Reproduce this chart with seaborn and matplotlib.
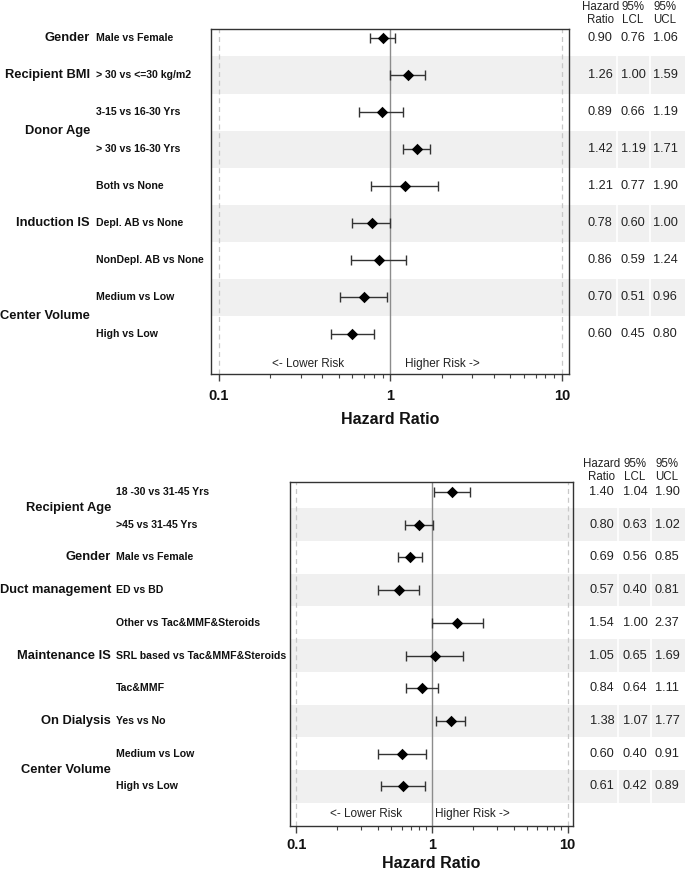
import numpy as np
import pandas as pd
import matplotlib
matplotlib.use("Agg")
import matplotlib.pyplot as plt
import seaborn as sns
from matplotlib.transforms import blended_transform_factory
from matplotlib.ticker import LogLocator, NullFormatter

# ---- top panel data ----
top_groups = ["Gender", "Recipient BMI", "Donor Age", "Donor Age", "Induction IS",
              "Induction IS", "Induction IS", "Center Volume", "Center Volume"]
top_labels = ["Male vs Female", "> 30 vs <=30 kg/m2", "3-15 vs 16-30 Yrs", "> 30 vs 16-30 Yrs",
              "Both vs None", "Depl. AB vs None", "NonDepl. AB vs None", "Medium vs Low", "High vs Low"]
top_hr = [0.90, 1.26, 0.89, 1.42, 1.21, 0.78, 0.86, 0.70, 0.60]
top_lcl = [0.76, 1.00, 0.66, 1.19, 0.77, 0.60, 0.59, 0.51, 0.45]
top_ucl = [1.06, 1.59, 1.19, 1.71, 1.90, 1.00, 1.24, 0.96, 0.80]

# ---- bottom panel data ----
bot_groups = ["Recipient Age", "Recipient Age", "Gender", "Duct management", "Maintenance IS",
              "Maintenance IS", "Maintenance IS", "On Dialysis", "Center Volume", "Center Volume"]
bot_labels = ["18 -30 vs 31-45 Yrs", ">45 vs 31-45 Yrs", "Male vs Female", "ED vs BD",
              "Other vs Tac&MMF&Steroids", "SRL based vs Tac&MMF&Steroids", "Tac&MMF",
              "Yes vs No", "Medium vs Low", "High vs Low"]
bot_hr = [1.40, 0.80, 0.69, 0.57, 1.54, 1.05, 0.84, 1.38, 0.60, 0.61]
bot_lcl = [1.04, 0.63, 0.56, 0.40, 1.00, 0.65, 0.64, 1.07, 0.40, 0.42]
bot_ucl = [1.90, 1.02, 0.85, 0.81, 2.37, 1.69, 1.11, 1.77, 0.91, 0.89]

sns.set_theme(style="white")
plt.rcParams['font.family'] = ['Liberation Sans', 'DejaVu Sans']

W, H = 685, 873
fig = plt.figure(figsize=(W / 100, H / 100), dpi=100)


def px_axes(left, top, right, bottom):
    return fig.add_axes([left / W, 1 - bottom / H, (right - left) / W, (bottom - top) / H])


def forest(ax, groups, labels, hr, lcl, ucl, ylim, cols_x, seps, band_right,
           group_right, sub_left, header_y, risk_y, tick_pad=6, label_pad=6):
    df = pd.DataFrame({"group": groups, "label": labels, "hr": hr, "lcl": lcl, "ucl": ucl})
    df["row"] = np.arange(len(df))
    ax.set_xscale("log")

    ttab = blended_transform_factory(ax.transAxes, ax.transData)
    tfig = blended_transform_factory(fig.transFigure, ax.transData)

    # shaded bands, running on into the table
    for r in df.row[1::2]:
        ax.axhspan(r - 0.5, r + 0.5, xmin=0, xmax=band_right, color="#f0f0f0",
                   lw=0, zorder=0, clip_on=False)
        for s in seps:
            ax.plot([s, s], [r - 0.5, r + 0.5], color="white", lw=1.2,
                    transform=ttab, clip_on=False, zorder=0.5)

    ax.axvline(1, color="#8c8c8c", lw=1, zorder=1)
    for v in (0.1, 10):
        ax.axvline(v, color="#c8c8c8", lw=0.9, ls=(0, (4, 3)), zorder=1)

    ax.errorbar(df.hr, df.row, xerr=[df.hr - df.lcl, df.ucl - df.hr], fmt="none",
                ecolor="#333333", elinewidth=1, capsize=3.6, capthick=1, zorder=2)
    sns.scatterplot(data=df, x="hr", y="row", marker="D", color="black", s=34,
                    linewidth=0, ax=ax, zorder=3)

    ax.set_xlim(10 ** -1.045, 10 ** 1.04)
    ax.set_ylim(*ylim)

    # table on the right
    for _, d in df.iterrows():
        for x, v in zip(cols_x, (d.hr, d.lcl, d.ucl)):
            ax.text(x, d.row, f"{v:.2f}", transform=ttab, ha="center", va="center",
                    fontsize=9.2, color="#222222")
    for x, h in zip(cols_x, ("Hazard\nRatio", "95%\nLCL", "95%\nUCL")):
        ax.text(x, header_y, h, transform=ttab, ha="center", va="center",
                fontsize=8.3, linespacing=1.15, color="#222222")

    # row labels on the left
    for _, d in df.iterrows():
        ax.text(sub_left, d.row, d.label, transform=tfig, ha="left", va="center",
                fontsize=7.6, fontweight="bold", color="#111111")
    for g, rows in df.groupby("group", sort=False).row:
        ax.text(group_right, rows.mean(), g, transform=tfig, ha="right", va="center",
                fontsize=9.3, fontweight="bold", color="#111111")

    ax.text(0.33, risk_y, "<- Lower Risk", ha="center", va="center", fontsize=8.5, color="#222222")
    ax.text(2.0, risk_y, "Higher Risk ->", ha="center", va="center", fontsize=8.5, color="#222222")

    ax.set_yticks([])
    ax.set_ylabel("")
    ax.set_xticks([0.1, 1, 10], labels=["0.1", "1", "10"])
    ax.xaxis.set_minor_locator(LogLocator(base=10, subs=np.arange(2, 10)))
    ax.xaxis.set_minor_formatter(NullFormatter())
    for t in ax.get_xticklabels():
        t.set_fontweight("bold")
    ax.tick_params(axis="x", which="major", bottom=True, length=5, width=1,
                   color="#444444", labelsize=10.5, pad=tick_pad, labelcolor="#111111")
    ax.tick_params(axis="x", which="minor", bottom=True, length=3, width=0.8, color="#444444")
    ax.set_xlabel("Hazard Ratio", fontsize=11.5, fontweight="bold", labelpad=label_pad,
                  color="#111111")
    for sp in ax.spines.values():
        sp.set_color("#333333")
        sp.set_linewidth(1)
    ax.grid(False)


ax1 = px_axes(211, 29, 569, 374)
forest(ax1, top_groups, top_labels, top_hr, top_lcl, top_ucl,
       ylim=(9.08, -0.243), cols_x=(1.087, 1.179, 1.268), seps=(1.134, 1.226),
       band_right=1.324, group_right=90 / W, sub_left=96 / W, header_y=-0.66, risk_y=8.81)

ax2 = px_axes(290, 482, 573, 826)
forest(ax2, bot_groups, bot_labels, bot_hr, bot_lcl, bot_ucl,
       ylim=(10.21, -0.305), cols_x=(1.102, 1.219, 1.332), seps=(1.159, 1.276),
       band_right=1.396, group_right=111 / W, sub_left=116 / W, header_y=-0.66, risk_y=9.85,
       tick_pad=3.5, label_pad=3)

fig.savefig("out.png", dpi=100)
